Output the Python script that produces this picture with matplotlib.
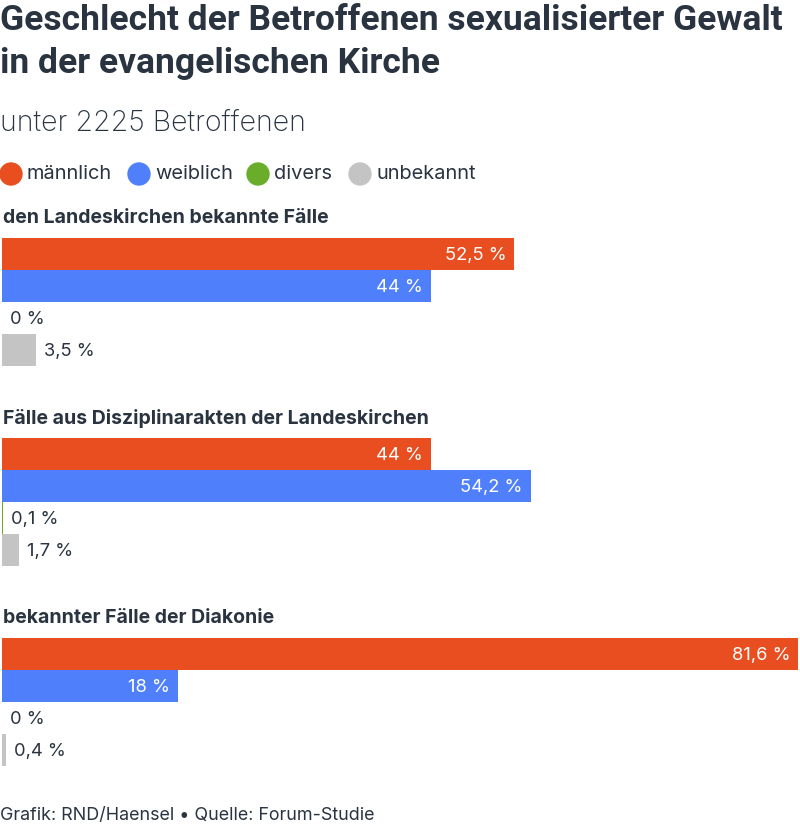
import matplotlib.pyplot as plt
from matplotlib.patches import Circle
from matplotlib.transforms import ScaledTranslation

# data
groups = ["den Landeskirchen bekannte Fälle",
          "Fälle aus Disziplinarakten der Landeskirchen",
          "bekannter Fälle der Diakonie"]
categories = ["männlich", "weiblich", "divers", "unbekannt"]
landeskirchen = [52.5, 44.0, 0.0, 3.5]
disziplinar = [44.0, 54.2, 0.1, 1.7]
diakonie = [81.6, 18.0, 0.0, 0.4]
colors = ["#e84e1f", "#4f7ffb", "#6aad2a", "#c4c4c4"]

TEXT = "#2a3441"
W, H = 800, 827
plt.rcParams['font.family'] = ['Inter', 'DejaVu Sans']

fig = plt.figure(figsize=(W / 100, H / 100), dpi=100)
fig.patch.set_facecolor("white")

# axes in % along x, pixels along y
ax = fig.add_axes([2 / W, 0, 796 / W, 1])
ax.set_xlim(0, max(diakonie))
ax.set_ylim(H, 0)
ax.axis("off")

def px(x):
    return x / W

def py(y):
    return 1 - y / H

fig.text(px(0), py(20), "Geschlecht der Betroffenen sexualisierter Gewalt",
         fontsize=25.5, fontweight="bold", family="Roboto", color=TEXT, va="center")
fig.text(px(0), py(63), "in der evangelischen Kirche",
         fontsize=25.5, fontweight="bold", family="Roboto", color=TEXT, va="center")
fig.text(px(0), py(123), "unter 2225 Betroffenen", fontsize=20.5, fontweight="light",
         color=TEXT, va="center")

# legend
leg_x = [11, 139, 258, 360]
for cx, name, col in zip(leg_x, categories, colors):
    fig.patches.append(Circle((cx, H - 174), 11, color=col, transform=None))
    fig.text(px(cx + 16), py(174), name, fontsize=14.4, color=TEXT, va="center")


def offset(dx):
    return ax.transData + ScaledTranslation(dx / 100, -1.5 / 100, fig.dpi_scale_trans)


series = [landeskirchen, disziplinar, diakonie]
bases = [238, 438, 638]
row_h = 32
for title, vals, base in zip(groups, series, bases):
    fig.text(px(3), py(base - 20), title, fontsize=14, fontweight="bold",
             color=TEXT, va="center")
    ys = [base + row_h / 2 + row_h * i for i in range(len(vals))]
    ax.barh(ys, vals, height=row_h, color=colors, linewidth=0)
    for y, v in zip(ys, vals):
        label = f"{v:.1f}".rstrip("0").rstrip(".").replace(".", ",") + " %"
        if v > 10:
            ax.text(v, y, label, transform=offset(-8), ha="right", va="center",
                    fontsize=13.2, color="white")
        else:
            ax.text(v, y, label, transform=offset(8), ha="left", va="center",
                    fontsize=13.2, color=TEXT)

fig.text(px(0), py(816), "Grafik: RND/Haensel • Quelle: Forum-Studie",
         fontsize=12.9, color=TEXT, va="center")

fig.savefig("out.png", dpi=100, facecolor="white")
